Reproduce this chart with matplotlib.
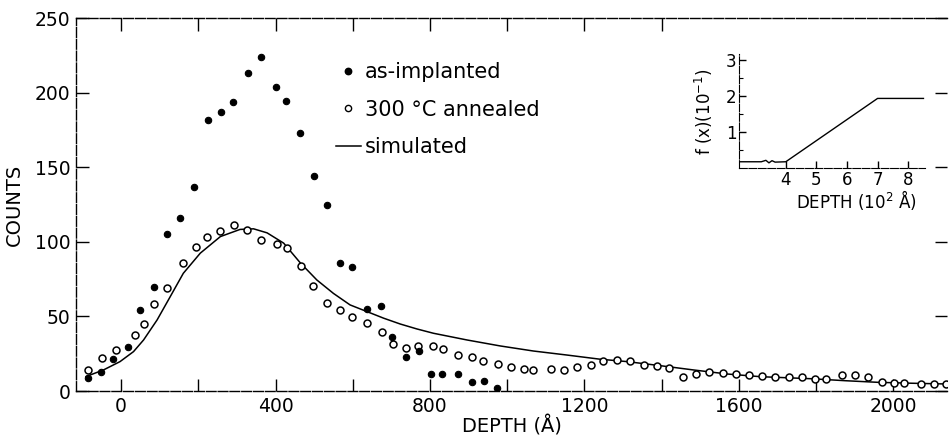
import numpy as np
import matplotlib.pyplot as plt
from matplotlib.lines import Line2D

# as-implanted (filled dots)
impl_depth = [-86, -52, -21, 17, 49, 86, 118, 153, 189, 225, 258, 291, 328, 361,
              402, 428, 464, 500, 532, 568, 599, 637, 673, 702, 737, 771, 803, 831,
              872, 908, 940, 973]
impl_counts = [9, 12.5, 21.5, 29.7, 54.1, 69.5, 105.1, 115.8, 137, 181.8, 187.3, 193.8, 213.1, 223.8,
               203.7, 194.5, 172.6, 144.4, 124.7, 86.1, 83.2, 54.7, 57, 36.4, 22.5, 26.7, 11.4, 11.6,
               11.4, 5.7, 6.7, 2]

# 300 C annealed (open circles)
ann_depth = [-86, -50, -14, 35, 60, 86, 118, 160, 193, 222,
             257, 293, 326, 362, 404, 429, 467, 497, 533, 568,
             599, 638, 676, 704, 737, 770, 807, 834, 873, 908,
             938, 977, 1010, 1043, 1067, 1114, 1148, 1182, 1216, 1247,
             1285, 1318, 1354, 1388, 1419, 1456, 1490, 1524, 1558, 1592,
             1626, 1661, 1695, 1729, 1764, 1798, 1826, 1868, 1900, 1934,
             1972, 2002, 2028, 2072, 2105, 2138]
ann_counts = [14.1, 21.9, 27.5, 37.6, 44.7, 58.1, 69.2, 85.6, 96.8, 103,
              107.2, 111, 107.7, 100.9, 98.3, 95.6, 84, 70.6, 59.2, 54,
              49.4, 45.4, 39.4, 31.7, 28.6, 30.4, 30.4, 28, 24.3, 22.6,
              19.9, 18.1, 16.3, 14.8, 14.1, 14.8, 14.1, 15.9, 17.3, 19.8,
              20.7, 19.8, 17.6, 17, 15.2, 9.2, 11.5, 12.9, 12.3, 11.6,
              10.9, 10.3, 9.5, 9.5, 9.2, 8.2, 8, 11, 10.4, 9.4,
              5.7, 5.4, 5.5, 5, 4.8, 4.6]

# simulated profile
sim_depth = [-91, -46, -3, 32, 58, 93, 127, 161, 205, 257, 308, 343, 378, 421, 464, 507,
             550, 593, 637, 680, 723, 766, 809, 896, 982, 1068, 1155, 1241, 1311, 1396,
             1483, 1570, 1656, 1790, 1876, 1962, 2049, 2138]
sim_counts = [9.7, 14.1, 19.7, 26.4, 34.2, 47.6, 63.2, 78.9, 92.4, 103.5, 108.3, 108.7, 106,
              99.1, 85.9, 74.4, 65.4, 57.7, 53.2, 48.8, 44.9, 41.6, 38.7, 34.2, 30.2, 26.8,
              24.1, 21.3, 19.7, 17, 14.1, 11.4, 9.6, 8.2, 6.9, 5.8, 5.2, 4.7]

# inset: f(x) vs depth (10^2 A)
inset_depth = [2.5, 3.2, 3.35, 3.45, 3.55, 3.65, 4.0, 7.0, 8.5]
inset_f = [0.18, 0.18, 0.22, 0.15, 0.21, 0.17, 0.18, 1.93, 1.93]

x_ticks = list(range(0, 2001, 200))
x_labels = ['0', '', '400', '', '800', '', '1200', '', '1600', '', '2000']
y_ticks = [0, 50, 100, 150, 200, 250]

plt.rcParams['font.family'] = ['DejaVu Sans']
dash = (0, (7, 1.5))

fig = plt.figure(figsize=(9.49, 4.38), dpi=100)
ax = fig.add_axes([0.0801, 0.1073, 0.918, 0.8516])

ax.plot(sim_depth, sim_counts, color='black', lw=1.1)
ax.plot(ann_depth, ann_counts, 'o', ms=5, mfc='white', mec='black', mew=1.1)
ax.plot(impl_depth, impl_counts, 'o', ms=4.6, mfc='black', mec='black', mew=0.8)

ax.set_xlim(-117, 2140)
ax.set_ylim(0, 250)
ax.set_xticks(x_ticks)
ax.set_xticklabels(x_labels)
ax.set_yticks(y_ticks)
ax.tick_params(direction='in', length=9, width=1, labelsize=13.5, pad=4,
               right=True, colors='black')
for side in ['left', 'bottom', 'top']:
    ax.spines[side].set_linestyle(dash)
    ax.spines[side].set_linewidth(1)
ax.spines['right'].set_visible(False)
ax.spines['top'].set_visible(False)

top = ax.secondary_xaxis('top')
top.set_xticks(list(range(0, 1401, 200)))
top.tick_params(direction='in', length=9, width=1, labeltop=False)
top.spines['top'].set_linestyle(dash)
top.spines['top'].set_linewidth(1)

ax.set_xlabel('DEPTH (Å)', fontsize=14, labelpad=0)
ax.set_ylabel('COUNTS', fontsize=14, labelpad=8)

handles = [Line2D([], [], ls='none', marker='o', ms=4.6, mfc='black', mec='black'),
           Line2D([], [], ls='none', marker='o', ms=4.5, mfc='white', mec='black', mew=1),
           Line2D([], [], color='black', lw=1.1)]
ax.legend(handles, ['as-implanted', '300 °C annealed', 'simulated'],
          loc='upper left', bbox_to_anchor=(0.298, 0.882), frameon=False,
          fontsize=15, handlelength=1.2, handletextpad=0.2, labelspacing=0.85,
          borderpad=0, borderaxespad=0)

# inset
axi = fig.add_axes([0.779, 0.6158, 0.1957, 0.2603])
axi.plot(inset_depth, inset_f, color='black', lw=1)
axi.set_xlim(2.48, 8.55)
axi.set_ylim(0, 3.15)
axi.set_xticks([4, 5, 6, 7, 8])
axi.set_yticks([1, 2, 3])
axi.set_yticks([0.5, 1.5, 2.5], minor=True)
axi.tick_params(direction='in', length=5, width=1, labelsize=12, pad=2)
axi.tick_params(which='minor', direction='in', length=3, width=0.8)
axi.spines['top'].set_visible(False)
axi.spines['right'].set_visible(False)
for side in ['left', 'bottom']:
    axi.spines[side].set_linestyle(dash)
axi.patch.set_alpha(0)
axi.set_xlabel('DEPTH (10$^2$ Å)', fontsize=12)
axi.xaxis.set_label_coords(0.63, -0.17)
axi.set_ylabel('f (x)(10$^{-1}$)', fontsize=12, labelpad=8)

fig.savefig('out.png', dpi=100)
